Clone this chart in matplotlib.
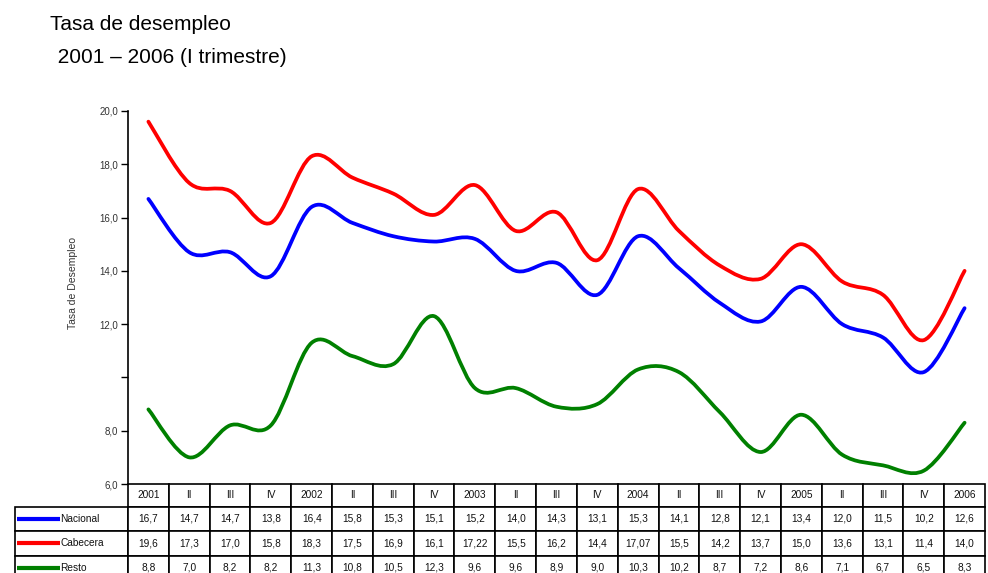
import matplotlib
matplotlib.use("Agg")
import matplotlib.pyplot as plt
from matplotlib.path import Path
from matplotlib.patches import PathPatch, Rectangle
from matplotlib.lines import Line2D
import numpy as np

plt.rcParams['font.family'] = ['Liberation Sans', 'DejaVu Sans']

periods = ["2001", "II", "III", "IV", "2002", "II", "III", "IV", "2003", "II", "III", "IV",
           "2004", "II", "III", "IV", "2005", "II", "III", "IV", "2006"]
nacional = [16.7, 14.7, 14.7, 13.8, 16.4, 15.8, 15.3, 15.1, 15.2, 14.0, 14.3, 13.1,
            15.3, 14.1, 12.8, 12.1, 13.4, 12.0, 11.5, 10.2, 12.6]
cabecera = [19.6, 17.3, 17.0, 15.8, 18.3, 17.5, 16.9, 16.1, 17.22, 15.5, 16.2, 14.4,
            17.07, 15.5, 14.2, 13.7, 15.0, 13.6, 13.1, 11.4, 14.0]
resto = [8.8, 7.0, 8.2, 8.2, 11.3, 10.8, 10.5, 12.3, 9.6, 9.6, 8.9, 9.0,
         10.3, 10.2, 8.7, 7.2, 8.6, 7.1, 6.7, 6.5, 8.3]
nacional_txt = ["16,7", "14,7", "14,7", "13,8", "16,4", "15,8", "15,3", "15,1", "15,2", "14,0", "14,3",
                "13,1", "15,3", "14,1", "12,8", "12,1", "13,4", "12,0", "11,5", "10,2", "12,6"]
cabecera_txt = ["19,6", "17,3", "17,0", "15,8", "18,3", "17,5", "16,9", "16,1", "17,22", "15,5", "16,2",
                "14,4", "17,07", "15,5", "14,2", "13,7", "15,0", "13,6", "13,1", "11,4", "14,0"]
resto_txt = ["8,8", "7,0", "8,2", "8,2", "11,3", "10,8", "10,5", "12,3", "9,6", "9,6", "8,9",
             "9,0", "10,3", "10,2", "8,7", "7,2", "8,6", "7,1", "6,7", "6,5", "8,3"]
series_names = ["Nacional", "Cabecera", "Resto"]
series_colors = ["#0000ff", "#ff0000", "#008000"]
yticks = [6, 8, 10, 12, 14, 16, 18, 20]
ytick_labels = ["6,0", "8,0", "", "12,0", "14,0", "16,0", "18,0", "20,0"]

W, H = 988, 573
fig = plt.figure(figsize=(W / 100, H / 100), dpi=100)
ax_l, ax_r, ax_t, ax_b = 128, 985, 111, 484
ax = fig.add_axes([ax_l / W, 1 - ax_b / H, (ax_r - ax_l) / W, (ax_b - ax_t) / H])


def smooth_path(xs, ys):
    xs = np.asarray(xs, float)
    ys = np.asarray(ys, float)
    n = len(xs)
    verts = [(xs[0], ys[0])]
    codes = [Path.MOVETO]
    for i in range(n - 1):
        p0 = (xs[max(i - 1, 0)], ys[max(i - 1, 0)])
        p1 = (xs[i], ys[i])
        p2 = (xs[i + 1], ys[i + 1])
        p3 = (xs[min(i + 2, n - 1)], ys[min(i + 2, n - 1)])
        c1 = (p1[0] + (p2[0] - p0[0]) / 6, p1[1] + (p2[1] - p0[1]) / 6)
        c2 = (p2[0] - (p3[0] - p1[0]) / 6, p2[1] - (p3[1] - p1[1]) / 6)
        verts += [c1, c2, p2]
        codes += [Path.CURVE4] * 3
    return Path(verts, codes)


ncol = len(periods)
x = np.arange(ncol)
for vals, col in zip([nacional, cabecera, resto], series_colors):
    ax.add_patch(PathPatch(smooth_path(x, vals), facecolor='none', edgecolor=col,
                           lw=2.7, capstyle='round', joinstyle='round'))

ax.set_xlim(-0.5, ncol - 0.5)
ax.set_ylim(6, 20)
ax.set_yticks(yticks)
ax.set_yticklabels(ytick_labels, fontsize=7, color='#333333')
ax.set_xticks([])
ax.tick_params(axis='y', direction='out', length=5, width=1, pad=2)
for s in ['top', 'right', 'bottom']:
    ax.spines[s].set_visible(False)
ax.spines['left'].set_linewidth(1.2)
ax.set_ylabel("Tasa de Desempleo", fontsize=7.5, color='#333333')
ax.yaxis.set_label_coords(-0.058, 0.54)

# ---- data table drawn below the axes ----
axw = ax_r - ax_l
axh = ax_b - ax_t
px_x = ncol / axw          # one pixel in data-x units
px_y = 1.0 / axh           # one pixel in axes-y units
head_h = 22.5 * px_y
row_h = 24.5 * px_y
lab_w = (ax_l - 15) * px_x
trans = ax.get_xaxis_transform()


def cell(xl, xr, yt, yb, text=None, ha='center', text_x=None, lw=1.2):
    r = Rectangle((xl, yb), (xr - xl), (yt - yb),
                  transform=trans, facecolor='white', edgecolor='black', lw=lw, clip_on=False)
    ax.add_patch(r)
    if text is not None:
        tx = (xl + xr) / 2 if text_x is None else text_x
        ax.text(tx, (yt + yb) / 2, text, transform=trans, ha=ha, va='center',
                fontsize=7.3, color='#111111', clip_on=False)


# header row
for j, p in enumerate(periods):
    cell(j - 0.5, j + 0.5, 0, -head_h, p)
# data rows
rows_txt = [nacional_txt, cabecera_txt, resto_txt]
for i, (name, col, vals) in enumerate(zip(series_names, series_colors, rows_txt)):
    yt = -head_h - i * row_h
    yb = yt - row_h
    xl = -0.5 - lab_w
    cell(xl, -0.5, yt, yb, name, ha='left', text_x=xl + 45 * px_x)
    ym = (yt + yb) / 2
    ax.add_line(Line2D([xl + 2 * px_x, xl + 45 * px_x], [ym, ym], transform=trans,
                       color=col, lw=3, clip_on=False, solid_capstyle='butt'))
    for j, v in enumerate(vals):
        cell(j - 0.5, j + 0.5, yt, yb, v)

fig.text(50 / W, 1 - 30 / H, "Tasa de desempleo", fontsize=15, va='baseline', ha='left')
fig.text(52 / W, 1 - 63 / H, " 2001 \u2013 2006 (I trimestre)", fontsize=15, va='baseline', ha='left')

fig.savefig("out.png", dpi=100)
